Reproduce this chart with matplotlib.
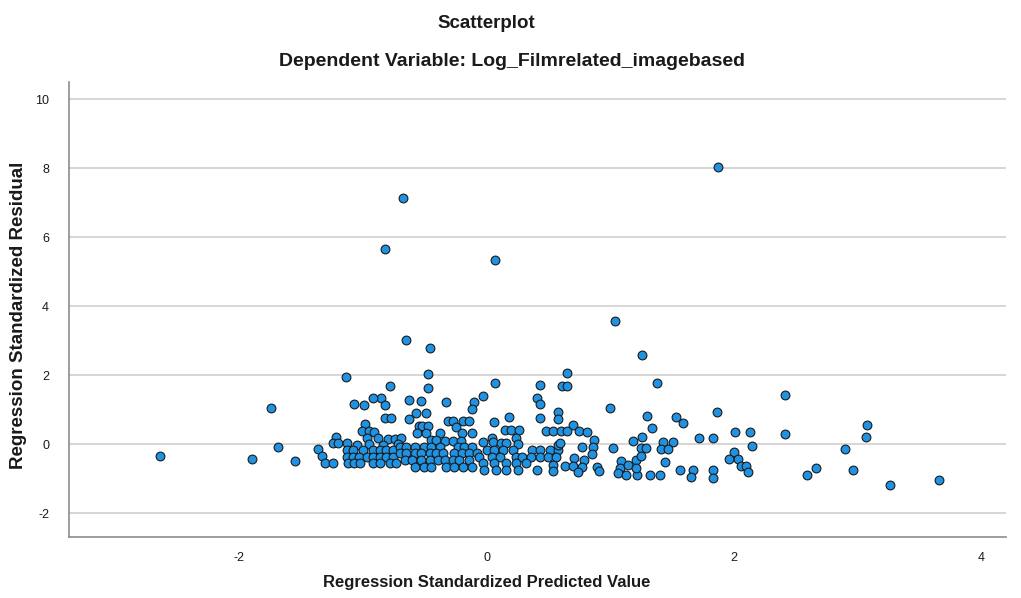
import matplotlib
matplotlib.use("Agg")
import matplotlib.pyplot as plt

# ---- data (Regression Standardized Predicted Value, Residual) ----
outlier_pred = [-2.64, -1.90, -1.74, -1.69, -1.55, -1.14, -0.82, -0.68, -0.65, -0.46,
                0.07, 1.87, 1.04, 1.26, 2.41, 2.41, 2.59, 2.66, 2.90, 2.96, 3.07, 3.08, 3.26, 3.66]
outlier_resid = [-0.34, -0.43, 1.05, -0.08, -0.48, 1.95, 5.66, 7.13, 3.02, 2.79,
                 5.34, 8.05, 3.58, 2.59, 1.43, 0.30, -0.89, -0.69, -0.14, -0.74, 0.21, 0.56, -1.18, -1.03]

upper_pred = [-0.47, -0.78, -0.47, 0.07, 0.43, 0.65, 0.61, 0.65, 1.38,
              -0.85, -0.82, -0.63, -0.53, -0.33, -0.03, -0.10, -0.12, 0.41, 0.43, 1.00, 0.58, 0.58,
              -0.57, -0.49, -0.82, -0.77, -0.63, -0.31, -0.27, -0.19, -0.14, 0.06, 0.18, 0.43, 0.70,
              1.30, 1.53, 1.59, 1.34,
              -0.55, -0.52, -0.47, -0.25, 0.15, 0.20, 0.26, 0.48, 0.54, 0.60, 0.65, 0.75, 0.81,
              -1.07, -0.99, -0.92]
upper_resid = [2.03, 1.69, 1.64, 1.77, 1.71, 2.06, 1.69, 1.69, 1.77,
               1.33, 1.14, 1.28, 1.26, 1.23, 1.41, 1.22, 1.02, 1.33, 1.16, 1.06, 0.93, 0.73,
               0.90, 0.90, 0.75, 0.75, 0.72, 0.66, 0.66, 0.66, 0.66, 0.63, 0.80, 0.75, 0.56,
               0.82, 0.80, 0.61, 0.46,
               0.53, 0.53, 0.53, 0.49, 0.41, 0.41, 0.41, 0.37, 0.37, 0.37, 0.37, 0.37, 0.35,
               1.16, 1.14, 1.34]

left_pred = [-0.98, -1.01, -0.95, -0.91, -0.97, -0.88, -0.80, -0.74, -0.69,
             -1.22, -1.24, -1.20, -1.13,
             -1.36, -1.33, -1.31, -1.24,
             -1.05, -0.95, -0.84, -0.72,
             -1.13, -1.08, -1.00, -0.92, -0.86, -0.81, -0.76,
             -1.13, -1.08, -1.03, -0.97, -0.92, -0.86, -0.81, -0.76,
             -1.12, -1.07, -1.02, -0.92, -0.86, -0.78, -0.73]
left_resid = [0.58, 0.39, 0.37, 0.35, 0.17, 0.17, 0.15, 0.15, 0.17,
              0.22, 0.03, 0.03, 0.03,
              -0.14, -0.35, -0.55, -0.55,
              -0.02, 0.00, -0.03, 0.00,
              -0.17, -0.17, -0.17, -0.17, -0.17, -0.17, -0.17,
              -0.36, -0.36, -0.36, -0.36, -0.36, -0.36, -0.36, -0.36,
              -0.55, -0.55, -0.55, -0.55, -0.55, -0.55, -0.55]

mid_pred = [-0.56, -0.49, -0.38, -0.20, -0.12,
            -0.45, -0.41, -0.34, -0.27, -0.21,
            -0.70, -0.65, -0.58, -0.51, -0.45, -0.38, -0.23, -0.18, -0.12,
            -0.70, -0.65, -0.58, -0.53, -0.46, -0.41, -0.35, -0.26, -0.20, -0.14, -0.08,
            -0.66, -0.60, -0.53, -0.46, -0.39, -0.34, -0.27, -0.22, -0.14,
            -0.58, -0.51, -0.45, -0.33, -0.26, -0.19, -0.12,
            -0.03, 0.04, 0.05, 0.12, 0.16, 0.24, 0.25,
            0.00, 0.06, 0.13, 0.21, 0.37, 0.43, 0.51, 0.58,
            -0.06, 0.04, 0.11, 0.24, 0.29, 0.36, 0.43, 0.50, 0.56,
            -0.03, 0.06, 0.16, 0.24, 0.32, 0.54,
            -0.02, 0.08, 0.16, 0.25, 0.41, 0.54, 0.58]
mid_resid = [0.32, 0.32, 0.32, 0.32, 0.32,
             0.12, 0.12, 0.08, 0.08, 0.08,
             -0.07, -0.07, -0.07, -0.07, -0.07, -0.07, -0.07, -0.07, -0.07,
             -0.26, -0.26, -0.26, -0.26, -0.26, -0.26, -0.26, -0.26, -0.26, -0.26, -0.26,
             -0.46, -0.46, -0.46, -0.46, -0.46, -0.46, -0.46, -0.46, -0.46,
             -0.65, -0.65, -0.65, -0.65, -0.65, -0.65, -0.65,
             0.05, 0.17, 0.05, 0.04, 0.04, 0.17, 0.02,
             -0.17, -0.17, -0.17, -0.17, -0.17, -0.17, -0.17, -0.17,
             -0.36, -0.36, -0.36, -0.36, -0.36, -0.36, -0.36, -0.36, -0.36,
             -0.55, -0.55, -0.55, -0.55, -0.55, -0.60,
             -0.74, -0.74, -0.74, -0.74, -0.74, -0.79, -0.02]

right_pred = [0.87, 0.77, 0.86, 1.02, 0.59, 1.18, 0.85, 0.71, 0.79, 1.09, 1.21,
              0.63, 0.70, 0.77, 0.89, 1.08, 1.14, 0.91, 1.06, 0.74,
              1.13, 1.22, 1.32, 1.40, 1.21,
              1.26, 1.72, 1.83, 1.43, 1.51, 1.41, 1.47, 1.25, 1.29, 1.25, 1.44,
              1.56, 1.67, 1.83,
              1.86, 2.01, 2.13, 2.15, 2.00, 1.96, 2.03, 2.06, 2.10, 2.11, 1.83, 1.65]
right_resid = [0.12, -0.07, -0.07, -0.10, 0.03, 0.08, -0.29, -0.41, -0.46, -0.48, -0.45,
               -0.62, -0.62, -0.65, -0.65, -0.69, -0.60, -0.79, -0.84, -0.82,
               -0.89, -0.89, -0.90, -0.90, -0.70,
               0.22, 0.19, 0.17, 0.06, 0.06, -0.14, -0.14, -0.12, -0.12, -0.33, -0.52,
               -0.74, -0.74, -0.74,
               0.94, 0.35, 0.34, -0.05, -0.23, -0.43, -0.43, -0.63, -0.63, -0.82, -0.99, -0.96]

x_ticks = [-2, 0, 2, 4]
y_ticks = [-2, 0, 2, 4, 6, 8, 10]

pred = outlier_pred + upper_pred + left_pred + mid_pred + right_pred
resid = outlier_resid + upper_resid + left_resid + mid_resid + right_resid

plt.rcParams['font.family'] = ['Liberation Sans', 'DejaVu Sans']

fig = plt.figure(figsize=(10.21, 5.98), dpi=100)
ax = fig.add_axes([68.6 / 1021, 1 - 537 / 598, (1006 - 68.6) / 1021, (537 - 82) / 598])

ax.set_xlim(-3.38, 4.20)
ax.set_ylim(-2.69, 10.50)
ax.set_yticks(y_ticks)
ax.set_xticks(x_ticks)
ax.set_yticklabels([str(v) for v in y_ticks])
ax.set_xticklabels([str(v) for v in x_ticks])
ax.yaxis.grid(True, color='#cfcfcf', linewidth=1.2)
ax.xaxis.grid(False)
ax.set_axisbelow(True)
ax.tick_params(axis='both', length=0, labelsize=9, colors='#1a1a1a')
ax.tick_params(axis='y', pad=14)
ax.tick_params(axis='x', pad=11)

for s in ['top', 'right']:
    ax.spines[s].set_visible(False)
for s in ['left', 'bottom']:
    ax.spines[s].set_color('#8c8c8c')
    ax.spines[s].set_linewidth(1.2)

ax.scatter(pred, resid, s=40, facecolor='#1f93e3', edgecolor='#1a1a1a',
           linewidth=0.8, zorder=3, clip_on=False)

fig.text(486 / 1021, 1 - 23 / 598, 'Scatterplot', ha='center', va='center',
         fontsize=13.5, fontweight='bold', color='#1a1a1a')
fig.text(512 / 1021, 1 - 62 / 598, 'Dependent Variable: Log_Filmrelated_imagebased',
         ha='center', va='center', fontsize=14, fontweight='bold', color='#1a1a1a')
fig.text(487 / 1021, 1 - 582 / 598, 'Regression Standardized Predicted Value',
         ha='center', va='center', fontsize=12, fontweight='bold', color='#1a1a1a')
fig.text(19 / 1021, 1 - 315 / 598, 'Regression Standardized Residual',
         ha='center', va='center', rotation=90, fontsize=13.5, fontweight='bold',
         color='#1a1a1a')

fig.savefig('out.png', dpi=100)
